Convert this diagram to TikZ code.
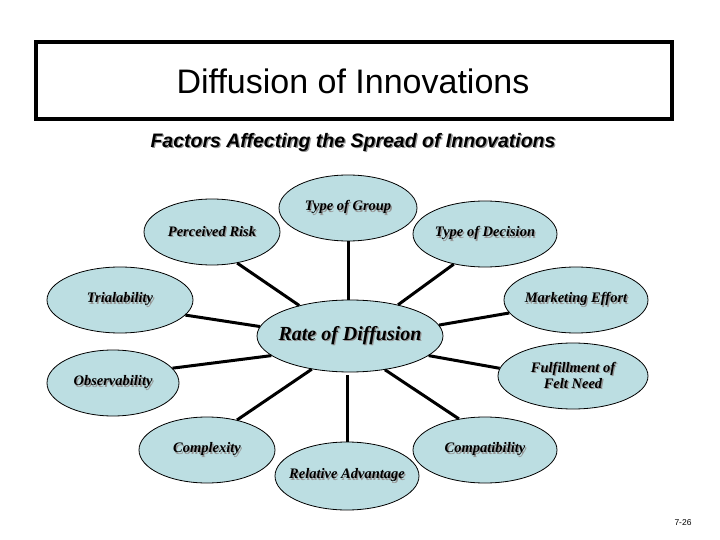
\documentclass[tikz,border=0pt]{standalone}
\usepackage{fontspec}
\setmainfont{Liberation Serif}
\newfontfamily\arialfont{Liberation Sans}
\usetikzlibrary{shapes.geometric}
\definecolor{bubblefill}{RGB}{188,222,226}
\definecolor{shadowgray}{RGB}{150,150,150}
\newcommand\shd[1]{\leavevmode\rlap{\kern1.3pt\raisebox{-1.3pt}{\textcolor{shadowgray}{#1}}}#1}
\newcommand\zlbl[1]{\makebox[0pt]{\shd{#1}}}
\begin{document}
\begin{tikzpicture}[x=1pt,y=-1pt,
  bubble/.style={ellipse,draw=black,line width=0.8pt,fill=bubblefill,inner sep=0pt,
    font=\fontsize{14.5}{15.5}\selectfont\bfseries\itshape},
  link/.style={line width=3pt,black},
  titlebox/.style={draw=black,line width=3.5pt,minimum width=636pt,minimum height=77pt,inner sep=0pt}]
\useasboundingbox (0,0) rectangle (720,540);
\node[titlebox] (tb) at (354,80.5) {};
\node[font=\arialfont\fontsize{34}{36}\selectfont] (title) at (353,81) {Diffusion of Innovations};
\node[font=\arialfont\fontsize{19.5}{21}\selectfont\bfseries\itshape] (sub) at (353,143) {\shd{Factors Affecting the Spread of Innovations}};

\node[bubble,minimum width=138pt,minimum height=66pt] (G) at (348,208) {\zlbl{Type of Group}};
\node[bubble,minimum width=136pt,minimum height=66pt] (P) at (212,232) {\zlbl{Perceived Risk}};
\node[bubble,minimum width=144pt,minimum height=66pt] (D) at (485,234) {\zlbl{Type of Decision}};
\node[bubble,minimum width=146pt,minimum height=66pt] (T) at (120,300) {\zlbl{Trialability}};
\node[bubble,minimum width=144pt,minimum height=66pt] (M) at (576,300) {\zlbl{Marketing Effort}};
\node[bubble,minimum width=186pt,minimum height=72pt,font=\fontsize{20}{22}\selectfont\bfseries\itshape] (R) at (350,336) {\zlbl{Rate of Diffusion}};
\node[bubble,minimum width=132pt,minimum height=66pt] (O) at (113,383) {\zlbl{Observability}};
\node[bubble,minimum width=150pt,minimum height=66pt,align=center] (F) at (573,376) {\shd{Fulfillment of}\\\shd{Felt Need}};
\node[bubble,minimum width=136pt,minimum height=66pt] (C) at (207,450) {\zlbl{Complexity}};
\node[bubble,minimum width=144pt,minimum height=66pt] (K) at (485,450) {\zlbl{Compatibility}};
\node[bubble,minimum width=144pt,minimum height=68pt] (A) at (347,476) {\zlbl{Relative Advantage}};

\draw[link] (P.309) -- (R.149);
\draw[link] (G.south) -- (G.south |- R.north);
\draw[link] (D.224) -- (R.33);
\draw[link] (T.347) -- (R.174);
\draw[link] (M.191) -- (R.7);
\draw[link] (O.14) -- (R.194);
\draw[link] (F.174) -- (R.346);
\draw[link] (C.45) -- (R.221);
\draw[link,shorten <=3pt] (R.south -| A.north) -- (A.north);
\draw[link] (K.130) -- (R.316);

\node[font=\arialfont\fontsize{8.5}{9}\selectfont] (pg) at (683,523) {7-26};
\end{tikzpicture}
\end{document}
